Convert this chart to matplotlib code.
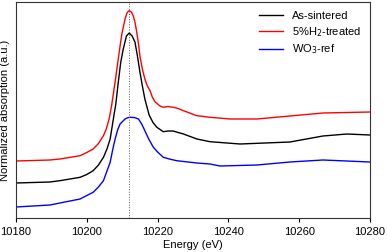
import matplotlib.pyplot as plt
import numpy as np

plt.rcParams['font.family'] = ['Liberation Sans', 'DejaVu Sans']

# energies (eV) and normalized absorption (a.u., offset)
e_red = [10180, 10189.6, 10192.4, 10198.1, 10200.0, 10201.8, 10203.3, 10204.7, 10205.5,
         10206.3, 10207.0, 10208.0, 10208.7, 10209.4, 10209.9, 10210.8, 10211.4, 10212.0,
         10212.6, 10213.1, 10213.6, 10214.1, 10214.6, 10215.0, 10215.7, 10216.4, 10217.1,
         10217.9, 10218.5, 10219.3, 10220.7, 10221.6, 10222.9, 10224.4, 10225.8, 10227.3,
         10231.1, 10234.8, 10240.5, 10248.1, 10257.4, 10266.7, 10280]
red = [0.57, 0.58, 0.59, 0.623, 0.655, 0.69, 0.745, 0.823, 0.89,
       0.99, 1.123, 1.36, 1.54, 1.72, 1.84, 1.99, 2.055, 2.073,
       2.06, 2.023, 1.96, 1.86, 1.74, 1.62, 1.49, 1.39, 1.32,
       1.27, 1.21, 1.16, 1.12, 1.107, 1.115, 1.107, 1.095, 1.073,
       1.023, 1.007, 0.99, 0.99, 1.02, 1.05, 1.06]

e_black = [10180, 10189.6, 10192.4, 10198.1, 10200.0, 10201.8, 10203.3, 10204.7, 10205.7,
           10206.6, 10207.5, 10208.2, 10208.9, 10209.6, 10210.3, 10211.2, 10212.0, 10212.8,
           10213.6, 10214.3, 10215.0, 10215.7, 10216.4, 10217.6, 10218.7, 10219.8, 10221.6,
           10223.0, 10224.4, 10225.8, 10227.3, 10231.1, 10234.8, 10243.3, 10257.4, 10266.7,
           10273.5, 10280]
black = [0.35, 0.36, 0.373, 0.407, 0.435, 0.473, 0.53, 0.607, 0.69,
         0.79, 0.99, 1.14, 1.36, 1.56, 1.69, 1.82, 1.85, 1.82,
         1.76, 1.62, 1.46, 1.32, 1.19, 1.03, 0.955, 0.907, 0.863,
         0.87, 0.87, 0.855, 0.84, 0.79, 0.763, 0.74, 0.76, 0.82,
         0.84, 0.83]

e_blue = [10180, 10189.6, 10192.4, 10198.1, 10200.0, 10201.8, 10203.3, 10204.7, 10205.6,
          10206.6, 10207.3, 10208.0, 10208.7, 10209.4, 10210.8, 10211.5, 10212.2, 10213.4,
          10214.6, 10215.5, 10216.4, 10217.5, 10218.8, 10220.0, 10221.6, 10223.3, 10225.4,
          10231.1, 10234.8, 10237.6, 10248.1, 10257.4, 10266.7, 10280]
blue = [0.11, 0.13, 0.15, 0.19, 0.225, 0.257, 0.31, 0.373, 0.46,
        0.557, 0.68, 0.79, 0.88, 0.94, 0.99, 1.002, 1.007, 1.005,
        0.99, 0.94, 0.873, 0.79, 0.707, 0.66, 0.607, 0.59, 0.573,
        0.55, 0.54, 0.52, 0.53, 0.56, 0.58, 0.56]

e_edge = 10212

fig = plt.figure(figsize=(3.87, 2.52), dpi=100)
ax = fig.add_axes([16/387, 34/252, 354/387, 216/252])

ax.plot(e_black, black, color='black', lw=1.0, label='As-sintered')
ax.plot(e_red, red, color='red', lw=1.0, label='5%H$_2$-treated')
ax.plot(e_blue, blue, color='blue', lw=1.0, label='WO$_3$-ref')
ax.axvline(e_edge, color='#555555', lw=0.7, ls=':')

ax.set_xlim(10180, 10280)
ax.set_ylim(0, 2.16)
ax.set_xticks(np.arange(10180, 10281, 20))
ax.set_yticks([])
ax.tick_params(axis='x', labelsize=8, direction='out', length=3, width=0.8)
ax.set_xlabel('Energy (eV)', fontsize=8, labelpad=2)
ax.set_ylabel('Normalized absorption (a.u.)', fontsize=8, labelpad=4)
for s in ax.spines.values():
    s.set_linewidth(0.8)
    s.set_color('#333333')

ax.legend(loc='upper right', frameon=False, fontsize=8, handlelength=2.2,
          handletextpad=0.8, labelspacing=0.35, borderaxespad=0.4)

fig.savefig('out.png', dpi=100)
